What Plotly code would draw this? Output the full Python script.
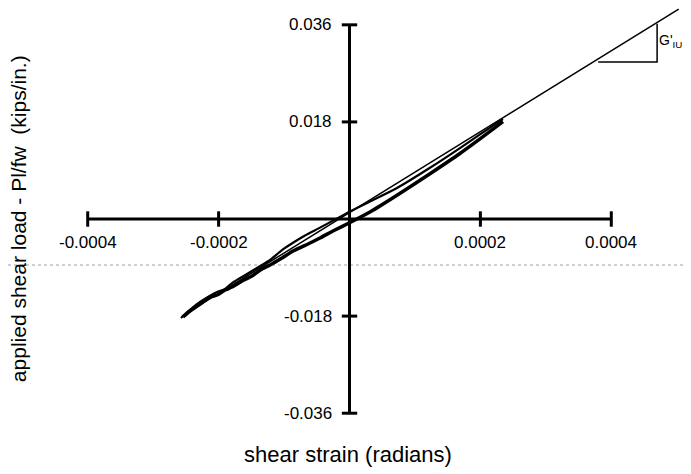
import plotly.graph_objects as go

# ---- data ----
# loading branch (lower strand), shear strain (rad) / shear load (kips/in.)
load_x = [-0.0002544, -0.0002437, -0.0002284, -0.0002131, -0.0002024, -0.0001902, -0.0001795,
          -0.0001642, -0.0001490, -0.0001337, -0.0001215, -0.0001032, -0.0000863, -0.0000603,
          -0.0000451, -0.0000222, 0.0000000, 0.0000313, 0.0000726, 0.0001230, 0.0001688,
          0.0001994, 0.0002345]
load_y = [-0.01817, -0.01706, -0.01576, -0.01446, -0.01409, -0.01316, -0.01261,
          -0.01150, -0.01057, -0.00927, -0.00853, -0.00723, -0.00593, -0.00445,
          -0.00352, -0.00204, -0.00070, 0.00130, 0.00440, 0.00840, 0.01215,
          0.01485, 0.01805]
# unloading branch (upper strand)
unload_x = [0.0002345, 0.0001994, 0.0001688, 0.0001230, 0.0000726, 0.0000313, 0.0000000,
            -0.0000222, -0.0000451, -0.0000680, -0.0000863, -0.0001032, -0.0001215,
            -0.0001337, -0.0001490, -0.0001642, -0.0001795, -0.0001902, -0.0002024,
            -0.0002162, -0.0002284, -0.0002406, -0.0002498, -0.0002574]
unload_y = [0.01854, 0.01570, 0.01315, 0.00950, 0.00575, 0.00325, 0.00135,
            -0.00010, -0.00160, -0.00305, -0.00440, -0.00575, -0.00760,
            -0.00853, -0.00964, -0.01075, -0.01187, -0.01298, -0.01353,
            -0.01446, -0.01539, -0.01650, -0.01742, -0.01835]
# fitted line G'IU
fit_x = [-0.000256, 0.000503]
fit_y = [-0.0180, 0.0389]
# slope triangle
tri_x = [0.000380, 0.000470, 0.000470]
tri_y = [0.0291, 0.0291, 0.0362]
# axes ticks
x_ticks = [-0.0004, -0.0002, 0.0002, 0.0004]
x_tick_labels = ["-0.0004", "-0.0002", "0.0002", "0.0004"]
y_ticks = [0.036, 0.018, -0.018, -0.036]
y_tick_labels = ["0.036", "0.018", "-0.018", "-0.036"]
scan_line_y = -0.00853

FONT = "Liberation Sans, Arial, Helvetica, sans-serif"

fig = go.Figure()

# axes lines
fig.add_trace(go.Scatter(x=[x_ticks[0], x_ticks[-1]], y=[0, 0], mode="lines",
                         line=dict(color="black", width=3), hoverinfo="skip"))
fig.add_trace(go.Scatter(x=[0, 0], y=[y_ticks[-1], y_ticks[0]], mode="lines",
                         line=dict(color="black", width=3), hoverinfo="skip"))
# tick marks
fig.add_trace(go.Scatter(x=x_ticks, y=[0] * len(x_ticks), mode="markers",
                         marker=dict(symbol="line-ns", size=11, color="black",
                                     line=dict(color="black", width=3)), hoverinfo="skip"))
fig.add_trace(go.Scatter(x=[0] * len(y_ticks), y=y_ticks, mode="markers",
                         marker=dict(symbol="line-ew", size=11, color="black",
                                     line=dict(color="black", width=3)), hoverinfo="skip"))

# data curves
fig.add_trace(go.Scatter(x=fit_x, y=fit_y, mode="lines",
                         line=dict(color="black", width=1.5), hoverinfo="skip"))
fig.add_trace(go.Scatter(x=load_x, y=load_y, mode="lines",
                         line=dict(color="black", width=3.5, shape="spline", smoothing=0.6),
                         hoverinfo="skip"))
fig.add_trace(go.Scatter(x=unload_x, y=unload_y, mode="lines",
                         line=dict(color="black", width=2.2, shape="spline", smoothing=0.6),
                         hoverinfo="skip"))
fig.add_trace(go.Scatter(x=tri_x, y=tri_y, mode="lines",
                         line=dict(color="black", width=1.5), hoverinfo="skip"))

annotations = []
for xv, lab in zip(x_ticks, x_tick_labels):
    annotations.append(dict(x=xv, y=0, xref="x", yref="y", text=lab, showarrow=False,
                            xanchor="center", yanchor="middle", yshift=-23,
                            font=dict(family=FONT, size=17, color="black")))
for yv, lab in zip(y_ticks, y_tick_labels):
    annotations.append(dict(x=0, y=yv, xref="x", yref="y", text=lab, showarrow=False,
                            xanchor="right", yanchor="middle", xshift=-16,
                            font=dict(family=FONT, size=17, color="black")))
annotations.append(dict(x=tri_x[1], y=(tri_y[1] + tri_y[2]) / 2 + 0.0004, xref="x", yref="y",
                        text="G'<sub>IU</sub>", showarrow=False, xanchor="left",
                        yanchor="middle", xshift=0, xref_shift=None,
                        font=dict(family=FONT, size=14, color="black"))
                   if False else
                   dict(x=tri_x[1], y=(tri_y[1] + tri_y[2]) / 2 + 0.0004, xref="x", yref="y",
                        text="G'<sub>IU</sub>", showarrow=False, xanchor="left",
                        yanchor="middle", xshift=0,
                        font=dict(family=FONT, size=14, color="black")))
annotations.append(dict(x=0.4978, y=0.0408, xref="paper", yref="paper",
                        text="shear strain (radians)", showarrow=False,
                        xanchor="center", yanchor="middle",
                        font=dict(family=FONT, size=22, color="black")))
annotations.append(dict(x=0.0146, y=0.549, xref="paper", yref="paper",
                        text="applied shear load - Pl/fw  (kips/in.)", showarrow=False,
                        textangle=-90, xanchor="center", yanchor="middle",
                        font=dict(family=FONT, size=21, color="black")))

# the page body adds an 8 px margin, so the figure is 8 px smaller and ranges shifted
fig.update_layout(
    width=683, height=466,
    margin=dict(l=0, r=0, t=0, b=0),
    paper_bgcolor="white", plot_bgcolor="white",
    showlegend=False,
    xaxis=dict(range=[-0.0005218, 0.0005218], visible=False, fixedrange=True),
    yaxis=dict(range=[-0.04727, 0.03912], visible=False, fixedrange=True),
    annotations=annotations,
    shapes=[dict(type="line", xref="paper", yref="y", x0=0, x1=1,
                 y0=scan_line_y, y1=scan_line_y,
                 line=dict(color="#a0a0a0", width=1, dash="dot"), layer="below")],
)

fig.write_html("out.html")
